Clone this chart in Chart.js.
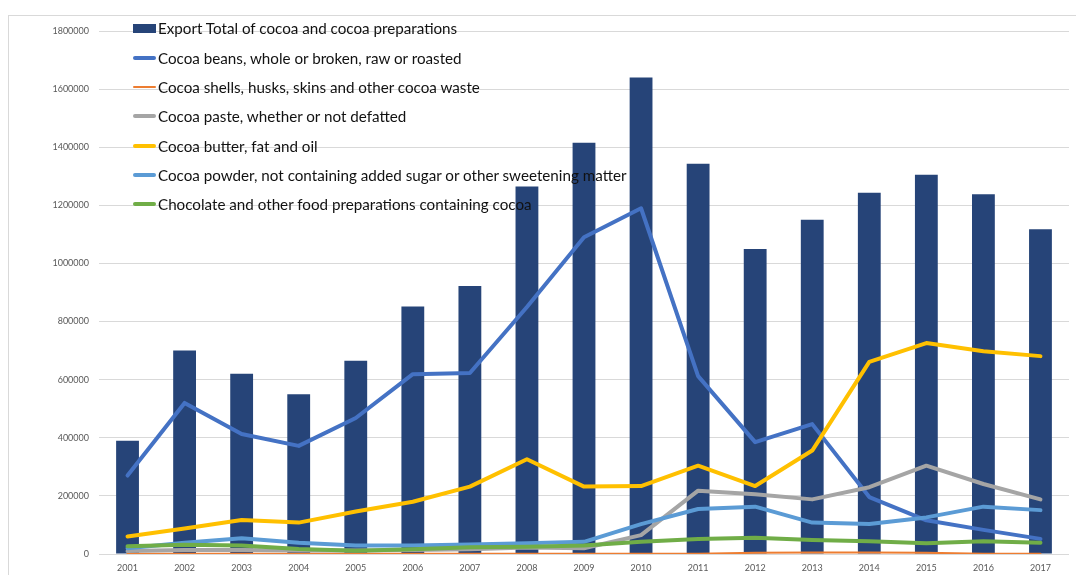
<!DOCTYPE html>
<html>
<head>
<meta charset="utf-8">
<script src="https://cdn.jsdelivr.net/npm/chart.js@4.4.1/dist/chart.umd.min.js"></script>
<style>
  body { margin: 0; background: #fff; overflow: hidden; }
  #wrap { position: relative; width: 1076px; height: 575px; }
  #frame { position: absolute; left: 8px; top: 15px; width: 1200px; height: 700px; border: 1px solid #d9d9d9; box-sizing: border-box; }
  #chart { position: absolute; left: 0; top: 0; }
  #legend { position: absolute; left: 133px; top: 13.7px; font-family: Lato, sans-serif; font-size: 15.2px; color: #111; }
  .row { height: 29.3px; display: flex; align-items: center; white-space: nowrap; }
  .mark { width: 23px; margin-right: 2px; flex: none; }
</style>
</head>
<body>
<div id="wrap">
  <div id="frame"></div>
  <canvas id="chart" width="1076" height="575"></canvas>
  <div id="legend"></div>
</div>
<script>
// Categories
const years = ['2001', '2002', '2003', '2004', '2005', '2006', '2007', '2008', '2009',
  '2010', '2011', '2012', '2013', '2014', '2015', '2016', '2017'];

// Series names
const seriesNames = [
  'Export Total of cocoa and cocoa preparations',
  'Cocoa beans, whole or broken, raw or roasted',
  'Cocoa shells, husks, skins and other cocoa waste',
  'Cocoa paste, whether or not defatted',
  'Cocoa butter, fat and oil',
  'Cocoa powder, not containing added sugar or other sweetening matter',
  'Chocolate and other food preparations containing cocoa'
];

// Values
const exportTotal = [390000, 700000, 620000, 550000, 665000, 852000, 922000, 1265000, 1415000,
  1640000, 1343000, 1050000, 1150000, 1243000, 1305000, 1238000, 1118000];
const cocoaBeans = [270000, 520000, 413000, 372000, 468000, 619000, 623000, 850000, 1090000,
  1190000, 612000, 385000, 447000, 196000, 116000, 83000, 52000];
const cocoaShells = [1000, 1000, 1000, 1000, 1000, 1000, 1000, 1000, 1000,
  1000, 1000, 4000, 5000, 5000, 4000, 1000, 1000];
const cocoaPaste = [10000, 14000, 14000, 12000, 12000, 14000, 16000, 22000, 20000,
  65000, 218000, 206000, 188000, 230000, 304000, 241000, 188000];
const cocoaButter = [60000, 88000, 117000, 108000, 146000, 180000, 232000, 326000, 232000,
  234000, 304000, 234000, 356000, 661000, 726000, 698000, 681000];
const cocoaPowder = [20000, 39000, 54000, 39000, 29000, 29000, 33000, 37000, 42000,
  103000, 155000, 163000, 108000, 103000, 126000, 163000, 151000];
const chocolate = [27000, 32000, 29000, 17000, 11000, 16000, 23000, 25000, 29000,
  42000, 52000, 56000, 48000, 44000, 37000, 44000, 39000];

// Y axis
const yMax = 1800000;
const yStep = 200000;

const colors = ['#264478', '#4472C4', '#ED7D31', '#A5A5A5', '#FFC000', '#5B9BD5', '#70AD47'];
const lineSeries = [cocoaBeans, cocoaShells, cocoaPaste, cocoaButter, cocoaPowder, chocolate];

const datasets = [{
  type: 'bar',
  label: seriesNames[0],
  data: exportTotal,
  backgroundColor: colors[0],
  barPercentage: 1,
  categoryPercentage: 0.4,
  order: 10
}];
lineSeries.forEach((values, i) => {
  datasets.push({
    type: 'line',
    label: seriesNames[i + 1],
    data: values,
    borderColor: colors[i + 1],
    backgroundColor: colors[i + 1],
    borderWidth: i === 1 ? 2 : 4,
    borderJoinStyle: 'round',
    borderCapStyle: 'round',
    pointRadius: 0,
    tension: 0,
    fill: false,
    order: 8 - i
  });
});

const tickFont = { family: 'Lato, sans-serif', size: 9 };

new Chart(document.getElementById('chart').getContext('2d'), {
  type: 'bar',
  data: { labels: years, datasets: datasets },
  options: {
    responsive: false,
    devicePixelRatio: 1,
    animation: false,
    layout: { padding: { top: 31, right: 7, bottom: 0, left: 0 } },
    plugins: {
      legend: { display: false },
      tooltip: { enabled: false }
    },
    scales: {
      x: {
        grid: { display: false, drawTicks: false },
        border: { display: false },
        ticks: { color: '#595959', font: tickFont, padding: 9, maxRotation: 0 },
        afterFit: scale => { scale.height = 21; }
      },
      y: {
        min: 0,
        max: yMax,
        grid: { color: '#d9d9d9', lineWidth: 1, drawTicks: false },
        border: { display: false },
        ticks: {
          stepSize: yStep,
          color: '#595959',
          font: tickFont,
          padding: 10,
          callback: v => String(v)
        },
        afterFit: scale => { scale.width = 99; }
      }
    }
  }
});

// HTML legend from the series names
const legend = document.getElementById('legend');
seriesNames.forEach((name, i) => {
  const row = document.createElement('div');
  row.className = 'row';
  const mark = document.createElement('span');
  mark.className = 'mark';
  mark.style.background = colors[i];
  if (i === 0) {
    mark.style.height = '9px';
  } else {
    mark.style.height = i === 2 ? '2px' : '4px';
    mark.style.borderRadius = '2px';
  }
  const text = document.createElement('span');
  text.textContent = name;
  row.appendChild(mark);
  row.appendChild(text);
  legend.appendChild(row);
});
</script>
</body>
</html>
